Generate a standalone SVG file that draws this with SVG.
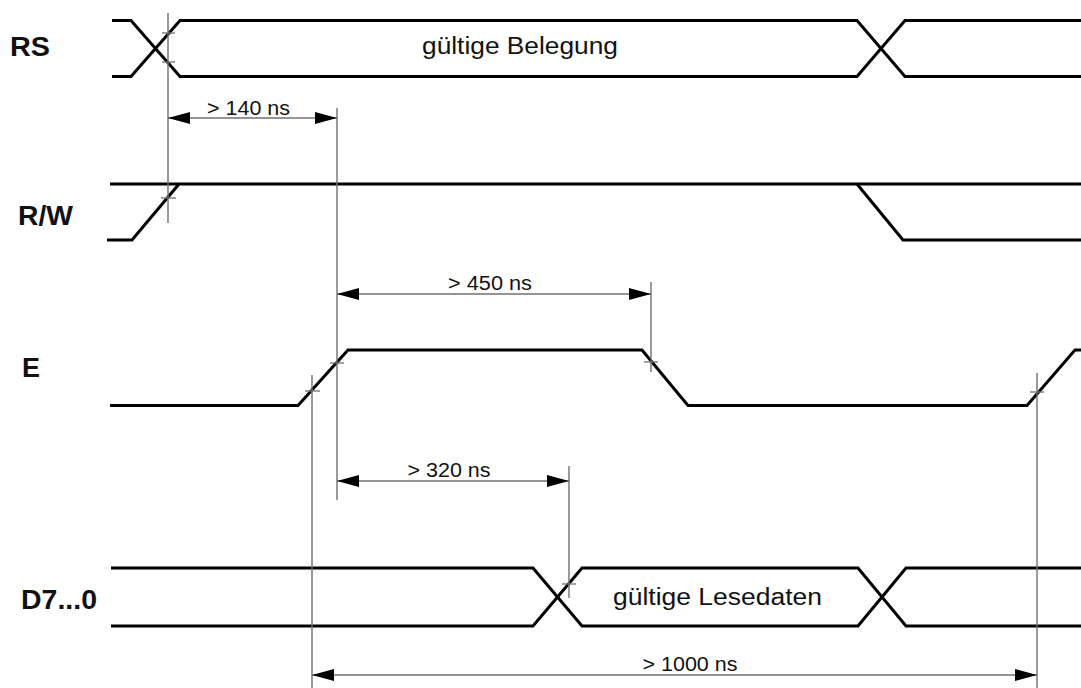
<svg xmlns="http://www.w3.org/2000/svg" width="1081" height="688" viewBox="0 0 1081 688">
<style>
.sig{fill:none;stroke:#000;stroke-width:3;stroke-linejoin:miter}
.dim{fill:none;stroke:#707070;stroke-width:1.4}
.arr{fill:none;stroke:#707070;stroke-width:1.3}
.tick{fill:none;stroke:#707070;stroke-width:1.3}
.lbl{font-family:"Liberation Sans",Arial,sans-serif;font-weight:bold;font-size:27px;fill:#111}
.txt{font-family:"Liberation Sans",Arial,sans-serif;font-size:23px;fill:#111}
.dt{font-family:"Liberation Sans",Arial,sans-serif;font-size:20px;fill:#111;text-anchor:middle}
</style>
<defs>
<marker id="ah" viewBox="0 0 22 12" refX="22" refY="6" markerWidth="22" markerHeight="12" markerUnits="userSpaceOnUse" orient="auto-start-reverse">
<path d="M0,0 L22,6 L0,12 Z" fill="#000"/>
</marker>
</defs>
<rect width="1081" height="688" fill="#fff"/>

<g id="RS">
<text class="lbl" x="10" y="56" textLength="40" lengthAdjust="spacingAndGlyphs">RS</text>
<path class="sig" d="M112,20.5 H131 L180,76.5 H857 L905,20.5 H1081"/>
<path class="sig" d="M112,76.5 H131 L180,20.5 H857 L905,76.5 H1081"/>
<text class="txt" x="520" y="54" text-anchor="middle" textLength="196" lengthAdjust="spacingAndGlyphs">gültige Belegung</text>
</g>

<g id="RW">
<text class="lbl" x="18" y="225" textLength="55" lengthAdjust="spacingAndGlyphs">R/W</text>
<path class="sig" d="M107,240 H132 L179,184"/>
<path class="sig" d="M110,184 H1081"/>
<path class="sig" d="M857,184 L903,240 H1081"/>
</g>

<g id="E">
<text class="lbl" x="22" y="377" textLength="18" lengthAdjust="spacingAndGlyphs">E</text>
<path class="sig" d="M110,405.5 H298 L348,350 H642 L688,405.5 H1027 L1075,350 H1081"/>
</g>

<g id="D7">
<text class="lbl" x="21" y="609" textLength="76" lengthAdjust="spacingAndGlyphs">D7...0</text>
<path class="sig" d="M111,568 H533 L582,626 H858 L906,568 H1081"/>
<path class="sig" d="M111,626 H533 L582,568 H858 L906,626 H1081"/>
<text class="txt" x="717.5" y="605" text-anchor="middle" textLength="209" lengthAdjust="spacingAndGlyphs">gültige Lesedaten</text>
</g>

<g id="connectors">
<line class="dim" x1="168" y1="13" x2="168" y2="223"/>
<line class="dim" x1="337" y1="108" x2="337" y2="500"/>
<line class="dim" x1="651" y1="282" x2="651" y2="372"/>
<line class="dim" x1="569" y1="466" x2="569" y2="598"/>
<line class="dim" x1="312" y1="375" x2="312" y2="688"/>
<line class="dim" x1="1037" y1="373" x2="1037" y2="688"/>
<line class="tick" x1="162" y1="33" x2="175" y2="33"/>
<line class="tick" x1="162" y1="62" x2="175" y2="62"/>
<line class="tick" x1="161" y1="198" x2="176" y2="198"/>
<line class="tick" x1="305" y1="391" x2="320" y2="391"/>
<line class="tick" x1="330" y1="363" x2="344" y2="363"/>
<line class="tick" x1="644" y1="362" x2="658" y2="362"/>
<line class="tick" x1="1030" y1="392" x2="1044" y2="392"/>
<line class="tick" x1="562" y1="584" x2="576" y2="584"/>
<line class="arr" x1="168" y1="118" x2="337" y2="118" marker-start="url(#ah)" marker-end="url(#ah)"/>
<text class="dt" x="248.5" y="115" textLength="83" lengthAdjust="spacingAndGlyphs">&gt; 140 ns</text>
<line class="arr" x1="337" y1="294" x2="651" y2="294" marker-start="url(#ah)" marker-end="url(#ah)"/>
<text class="dt" x="490" y="290" textLength="84" lengthAdjust="spacingAndGlyphs">&gt; 450 ns</text>
<line class="arr" x1="337" y1="481" x2="569" y2="481" marker-start="url(#ah)" marker-end="url(#ah)"/>
<text class="dt" x="449" y="477" textLength="83" lengthAdjust="spacingAndGlyphs">&gt; 320 ns</text>
<line class="arr" x1="312" y1="675" x2="1037" y2="675" marker-start="url(#ah)" marker-end="url(#ah)"/>
<text class="dt" x="690" y="671" textLength="95" lengthAdjust="spacingAndGlyphs">&gt; 1000 ns</text>
</g>
</svg>
